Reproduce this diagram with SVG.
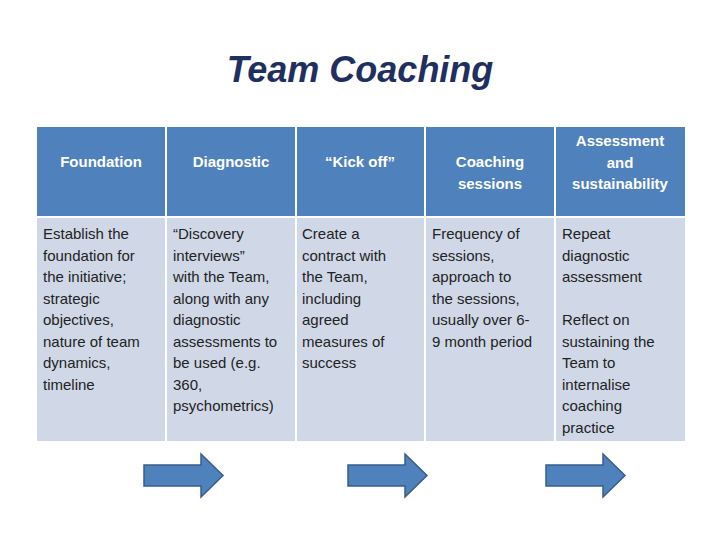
<svg xmlns="http://www.w3.org/2000/svg" width="720" height="539" viewBox="0 0 720 539">
<style>
.h{font-family:"Liberation Sans",Arial,sans-serif;font-size:15px;font-weight:bold;fill:#fff;text-anchor:middle}
.b{font-family:"Liberation Sans",Arial,sans-serif;font-size:15px;fill:#222}
.ar{fill:#4F81BD;stroke:#385D8A;stroke-width:1.5}
</style>
<rect width="720" height="539" fill="#fff"/>
<text x="360" y="82" text-anchor="middle" font-family="Liberation Sans,Arial,sans-serif" font-size="36" font-weight="bold" font-style="italic" fill="#1F2F5F">Team Coaching</text>
<g id="header">
<rect x="37" y="127" width="648" height="90" fill="#4F81BD"/>
<rect x="37" y="217" width="648" height="224" fill="#D0D8E8"/>
<g stroke="#fff" stroke-width="2">
<line x1="166" y1="127" x2="166" y2="441"/><line x1="296" y1="127" x2="296" y2="441"/><line x1="425" y1="127" x2="425" y2="441"/><line x1="555" y1="127" x2="555" y2="441"/>
<line x1="37" y1="217" x2="685" y2="217"/>
</g>
</g>
<g id="col1"><text class="h" x="101" y="167">Foundation</text>
<text class="b" x="43" y="239">Establish the<tspan x="43" dy="21.5">foundation for</tspan><tspan x="43" dy="21.5">the initiative;</tspan><tspan x="43" dy="21.5">strategic</tspan><tspan x="43" dy="21.5">objectives,</tspan><tspan x="43" dy="21.5">nature of team</tspan><tspan x="43" dy="21.5">dynamics,</tspan><tspan x="43" dy="21.5">timeline</tspan></text></g>
<g id="col2"><text class="h" x="231" y="167">Diagnostic</text>
<text class="b" x="173" y="239">“Discovery<tspan x="173" dy="21.5">interviews”</tspan><tspan x="173" dy="21.5">with the Team,</tspan><tspan x="173" dy="21.5">along with any</tspan><tspan x="173" dy="21.5">diagnostic</tspan><tspan x="173" dy="21.5">assessments to</tspan><tspan x="173" dy="21.5">be used (e.g.</tspan><tspan x="173" dy="21.5">360,</tspan><tspan x="173" dy="21.5">psychometrics)</tspan></text></g>
<g id="col3"><text class="h" x="360" y="167">“Kick off”</text>
<text class="b" x="302" y="239">Create a<tspan x="302" dy="21.5">contract with</tspan><tspan x="302" dy="21.5">the Team,</tspan><tspan x="302" dy="21.5">including</tspan><tspan x="302" dy="21.5">agreed</tspan><tspan x="302" dy="21.5">measures of</tspan><tspan x="302" dy="21.5">success</tspan></text></g>
<g id="col4"><text class="h" x="490" y="167">Coaching<tspan x="490" dy="21.5">sessions</tspan></text>
<text class="b" x="432" y="239">Frequency of<tspan x="432" dy="21.5">sessions,</tspan><tspan x="432" dy="21.5">approach to</tspan><tspan x="432" dy="21.5">the sessions,</tspan><tspan x="432" dy="21.5">usually over 6-</tspan><tspan x="432" dy="21.5">9 month period</tspan></text></g>
<g id="col5"><text class="h" x="620" y="146">Assessment<tspan x="620" dy="21.5">and</tspan><tspan x="620" dy="21.5">sustainability</tspan></text>
<text class="b" x="562" y="239">Repeat<tspan x="562" dy="21.5">diagnostic</tspan><tspan x="562" dy="21.5">assessment</tspan><tspan x="562" dy="43">Reflect on</tspan><tspan x="562" dy="21.5">sustaining the</tspan><tspan x="562" dy="21.5">Team to</tspan><tspan x="562" dy="21.5">internalise</tspan><tspan x="562" dy="21.5">coaching</tspan><tspan x="562" dy="21.5">practice</tspan></text></g>
<g id="connectors">
<path class="ar" d="M144,465 H201 V454 L223,475.5 L201,497 V486 H144 Z"/>
<path class="ar" d="M348,465 H405 V454 L427,475.5 L405,497 V486 H348 Z"/>
<path class="ar" d="M546,465 H603 V454 L625,475.5 L603,497 V486 H546 Z"/>
</g>
</svg>
